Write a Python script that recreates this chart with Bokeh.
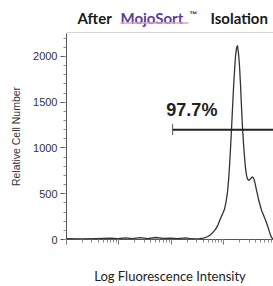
from bokeh.plotting import figure
from bokeh.layouts import column
from bokeh.models import Range1d, Label, SingleIntervalTicker
from bokeh.core.properties import value
from bokeh.embed import file_html
from bokeh.resources import INLINE

# Histogram (fluorescence intensity, cell count)
intensity = [1, 1.85, 3.6, 6.9, 9.5, 13.3, 18, 25.7, 35, 49.6, 70, 95.7, 130, 185, 240, 286, 340, 407, 480, 553, 620,
             689, 770, 858, 940, 1023, 1100, 1167, 1220, 1274, 1330, 1389, 1450, 1517, 1590, 1656, 1730, 1807,
             1890, 1972, 2060, 2154, 2250, 2351, 2460, 2570, 2690, 2805, 2930, 3062, 3270, 3490, 3650, 3809,
             3980, 4159, 4350, 4540, 4850, 5176, 5530, 5902, 6300, 6745, 7200, 7691, 8000, 8395, 8770]
counts = [8, 6, 10, 14, 8, 18, 10, 20, 9, 22, 12, 15, 10, 18, 8, 6, 8, 14, 30, 50, 80,
          110, 160, 230, 280, 330, 420, 520, 640, 800, 990, 1200, 1420, 1650, 1850, 2000, 2090, 2120,
          2030, 1900, 1700, 1450, 1230, 1050, 900, 780, 700, 660, 650, 650, 670, 685, 670, 640,
          590, 540, 490, 440, 380, 320, 280, 240, 200, 150, 100, 50, 25, 10, 5]

gate_start = 105
gate_end = 8770
gate_level = 1200
gate_text = "97.7%"

title_parts = ["After", "MojoSort", "™", "Isolation"]
x_label = "Log Fluorescence Intensity"
y_label = "Relative Cell Number"

W = 273
TH = 33
LEFT = 66

# ---- title strip (frame aligned with the plot frame) ----
t = figure(width=W, height=TH, output_backend="svg", toolbar_location=None,
           x_range=Range1d(LEFT, W), y_range=Range1d(TH, 0),
           min_border_left=LEFT, min_border_right=0, min_border_top=0, min_border_bottom=0)
t.axis.visible = False
t.grid.visible = False
t.outline_line_color = None
t.background_fill_color = "white"
t.border_fill_color = "white"

title_x = [77, 120, 189, 210]
title_y = [17, 17, 14, 17]
title_colors = ["#1a1a1a", "#5b3f99", "#1a1a1a", "#1a1a1a"]
title_sizes = ["15px", "15px", "8px", "15px"]
title_fonts = ["Lato", "Lato", "Liberation Sans", "Lato"]
for txt, xs, ys, c, s, f in zip(title_parts, title_x, title_y, title_colors, title_sizes, title_fonts):
    t.text(x=[xs], y=[ys], text=[txt], text_font=value(f), text_font_style="bold",
           text_font_size=s, text_color=c, text_baseline="alphabetic", text_align="left")
# underline of the link-styled word
t.segment(x0=[title_x[1]], y0=[22.5], x1=[title_x[2] - 1], y1=[22.5], line_color="#d9a3c6", line_width=1.5)
# top border of the plot frame
t.segment(x0=[LEFT], y0=[32.5], x1=[W], y1=[32.5], line_color="#aaaaaa", line_width=1.2)

# ---- main plot ----
p = figure(width=W, height=286 - TH, x_axis_type="log", output_backend="svg", toolbar_location=None,
           x_range=Range1d(1, 8770), y_range=Range1d(0, 2250),
           min_border_left=LEFT, min_border_right=0, min_border_top=0, min_border_bottom=45)
p.outline_line_color = None
p.background_fill_color = "white"
p.border_fill_color = "white"
p.grid.visible = False

# histogram
p.line(intensity, counts, line_color="#333333", line_width=1.3)

# gate
p.line([gate_start, gate_end], [gate_level, gate_level], line_color="#222222", line_width=2)
p.segment(x0=[gate_start], y0=[gate_level - 60], x1=[gate_start], y1=[gate_level + 60],
          line_color="#555555", line_width=1)
p.add_layout(Label(x=gate_start * 0.76, y=gate_level + 210, text=gate_text, text_font="Liberation Sans",
                   text_font_style="bold", text_font_size="18px", text_color="#222222",
                   text_baseline="alphabetic"))

# axes
xa = p.xaxis[0]
xa.axis_label = x_label
xa.axis_label_text_font = "Lato"
xa.axis_label_text_font_style = "normal"
xa.axis_label_text_font_size = "13px"
xa.axis_label_text_color = "#222222"
xa.axis_label_standoff = 23
xa.major_label_text_font_size = "2px"
xa.major_label_standoff = 0
xa.major_label_text_color = None
xa.axis_line_color = "#555555"
xa.major_tick_line_color = "#666666"
xa.minor_tick_line_color = "#888888"
xa.major_tick_out = 5
xa.major_tick_in = 0
xa.minor_tick_out = 3
xa.minor_tick_in = 0

ya = p.yaxis[0]
ya.ticker = SingleIntervalTicker(interval=500, num_minor_ticks=5)
ya.axis_label = y_label
ya.axis_label_text_font = "Liberation Sans"
ya.axis_label_text_font_style = "normal"
ya.axis_label_text_font_size = "10.5px"
ya.axis_label_text_color = "#333333"
ya.axis_label_standoff = 8
ya.major_label_text_font = "Liberation Sans"
ya.major_label_text_font_size = "11px"
ya.major_label_text_color = "#333333"
ya.major_label_standoff = 3
ya.axis_line_color = "#555555"
ya.major_tick_line_color = "#555555"
ya.minor_tick_line_color = "#888888"
ya.major_tick_out = 6
ya.major_tick_in = 0
ya.minor_tick_out = 3
ya.minor_tick_in = 0

layout = column(t, p, spacing=0)
open("out.html", "w").write(file_html(layout, INLINE))
